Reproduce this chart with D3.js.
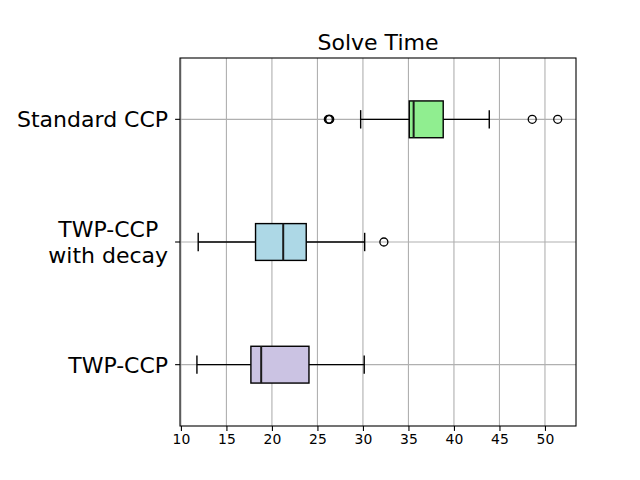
<!DOCTYPE html>
<html><head><meta charset="utf-8">
<script src="https://cdn.jsdelivr.net/npm/d3@7/dist/d3.min.js"></script>
<style>body{margin:0;background:#fff}text{font-family:"DejaVu Sans",sans-serif}</style>
</head><body><svg id="c" width="640" height="480"></svg>
<script>
const categories = ["Standard CCP", "TWP-CCP\nwith decay", "TWP-CCP"];
const whiskerLow = [29.75, 11.9, 11.76];
const q1 = [35.09, 18.2, 17.69];
const median = [35.57, 21.24, 18.82];
const q3 = [38.82, 23.77, 24.07];
const whiskerHigh = [43.88, 30.19, 30.14];
const outliers = [[26.2, 26.3, 26.35, 48.6, 51.4], [32.3], []];
const colors = ["#90ee90", "#add8e6", "#cbc3e3"];
const xTicks = [10, 15, 20, 25, 30, 35, 40, 45, 50];

const svg = d3.select("#c");
const L = 180, R = 576, T = 58, B = 426;
const x = d3.scaleLinear().domain([9.9, 53.41]).range([L, R]);
const y = d3.scaleLinear().domain([0.5, 3.5]).range([T, B]);
const pos = i => y(i + 1);
const bw = y(0.8) - y(0.5);
const cw = bw / 2;

// grid
svg.append("g").selectAll("line").data(xTicks).join("line")
  .attr("x1", d => x(d)).attr("x2", d => x(d)).attr("y1", T).attr("y2", B)
  .attr("stroke", "#b0b0b0").attr("stroke-width", 1.1);
svg.append("g").selectAll("line").data(categories).join("line")
  .attr("x1", L).attr("x2", R).attr("y1", (d, i) => pos(i)).attr("y2", (d, i) => pos(i))
  .attr("stroke", "#b0b0b0").attr("stroke-width", 1.1);

// boxes
const g = svg.append("g");
categories.forEach((c, i) => {
  const yc = pos(i);
  const st = "#000";
  const sw = 1.4;
  g.append("line").attr("x1", x(whiskerLow[i])).attr("x2", x(q1[i])).attr("y1", yc).attr("y2", yc).attr("stroke", st).attr("stroke-width", sw);
  g.append("line").attr("x1", x(q3[i])).attr("x2", x(whiskerHigh[i])).attr("y1", yc).attr("y2", yc).attr("stroke", st).attr("stroke-width", sw);
  [whiskerLow[i], whiskerHigh[i]].forEach(v => {
    g.append("line").attr("x1", x(v)).attr("x2", x(v)).attr("y1", yc - cw / 2).attr("y2", yc + cw / 2).attr("stroke", st).attr("stroke-width", sw);
  });
  g.append("rect").attr("x", x(q1[i])).attr("width", x(q3[i]) - x(q1[i]))
    .attr("y", yc - bw / 2).attr("height", bw).attr("fill", colors[i]).attr("stroke", st).attr("stroke-width", sw);
  g.append("line").attr("x1", x(median[i])).attr("x2", x(median[i])).attr("y1", yc - bw / 2).attr("y2", yc + bw / 2).attr("stroke", "#1a1a1a").attr("stroke-width", 2);
  outliers[i].forEach(v => {
    g.append("circle").attr("cx", x(v)).attr("cy", yc).attr("r", 4).attr("fill", "none").attr("stroke", st).attr("stroke-width", 1.3);
  });
});

// axes frame
svg.append("rect").attr("x", L).attr("y", T).attr("width", R - L).attr("height", B - T)
  .attr("fill", "none").attr("stroke", "#000").attr("stroke-width", 1.1);

// x axis
const xa = svg.append("g").attr("transform", `translate(0,${B})`)
  .call(d3.axisBottom(x).tickValues(xTicks).tickSize(4.9).tickPadding(3.5).tickFormat(d3.format("d")));
xa.select(".domain").remove();
xa.selectAll("text").attr("font-size", "13.9px").attr("fill", "#000").attr("font-family", "DejaVu Sans");
xa.selectAll("line").attr("stroke", "#000").attr("stroke-width", 1.1);

// y axis ticks
svg.append("g").selectAll("line").data(categories).join("line")
  .attr("x1", L - 4.9).attr("x2", L).attr("y1", (d, i) => pos(i)).attr("y2", (d, i) => pos(i))
  .attr("stroke", "#000").attr("stroke-width", 1.1);
const yl = svg.append("g");
categories.forEach((c, i) => {
  const lines = c.split("\n");
  const fs = 22;
  const lh = fs * 1.2;
  const t = yl.append("text").attr("font-size", fs + "px").attr("fill", "#000")
    .attr("text-anchor", "middle").attr("dominant-baseline", "central");
  const tmp = yl.append("text").attr("font-size", fs + "px");
  let maxW = 0;
  lines.forEach(l => { tmp.text(l); maxW = Math.max(maxW, tmp.node().getComputedTextLength()); });
  tmp.remove();
  const cx = L - 4.9 - 7 - maxW / 2;
  lines.forEach((l, k) => {
    t.append("tspan").attr("x", cx).attr("y", pos(i) + (k - (lines.length - 1) / 2) * lh).text(l);
  });
});

// title
svg.append("text").attr("x", (L + R) / 2).attr("y", T - 8).attr("text-anchor", "middle")
  .attr("font-size", "22px").attr("fill", "#000").text("Solve Time");
</script></body></html>
